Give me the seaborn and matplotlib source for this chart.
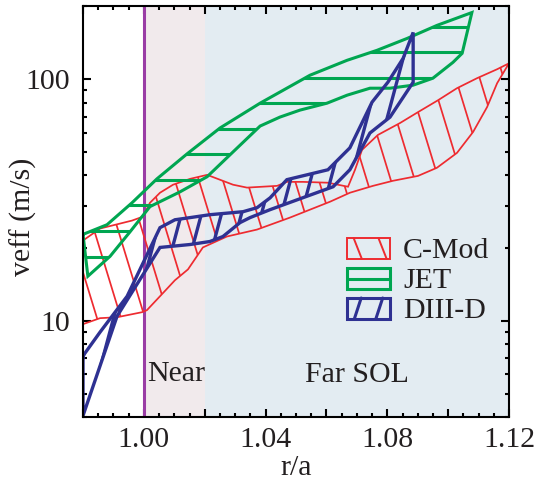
import numpy as np
import pandas as pd
import matplotlib
matplotlib.use("Agg")
import matplotlib.pyplot as plt
import seaborn as sns
from matplotlib.collections import LineCollection
from matplotlib.patches import Rectangle
from matplotlib.lines import Line2D
from matplotlib.ticker import FixedLocator, MultipleLocator, FuncFormatter, NullFormatter, LogLocator

# ---------------- data ----------------
cmod_upper_x = [0.9800, 0.9856, 0.9961, 0.9997, 1.0020, 1.0053, 1.0096, 1.0152, 1.0208, 1.0293,
                1.0339, 1.0438, 1.0470, 1.0523, 1.0605, 1.0671, 1.0694, 1.0717, 1.0769, 1.0842,
                1.0901, 1.0967, 1.1029, 1.1095, 1.1161, 1.1200]
cmod_upper_y = [21.5, 24.1, 26.0, 27.0, 30.8, 33.9, 36.6, 38.7, 40.2, 36.6,
                35.6, 36.2, 37.6, 37.6, 37.3, 35.9, 42.2, 51.0, 58.8, 65.9,
                73.1, 81.9, 91.8, 101.0, 110.0, 116.4]
cmod_lower_x = [0.9800, 0.9856, 0.9912, 0.9994, 1.0010, 1.0053, 1.0102, 1.0145, 1.0194, 1.0273,
                1.0372, 1.0480, 1.0612, 1.0677, 1.0753, 1.0819, 1.0901, 1.0963, 1.1029, 1.1082,
                1.1128, 1.1161]
cmod_lower_y = [9.69, 10.26, 10.35, 10.86, 11.07, 12.64, 14.72, 16.33, 20.13, 22.34,
                23.87, 26.75, 31.13, 33.9, 36.2, 38.0, 39.8, 43.0, 49.56, 60.5,
                76.7, 96.3]

jet_upper_x = [0.9800, 0.9879, 0.9961, 1.0043, 1.0142, 1.0250, 1.0382, 1.0546, 1.0668, 1.0766,
               1.0865, 1.0963, 1.1078]
jet_upper_y = [22.8, 25.0, 30.8, 38.7, 49.1, 62.8, 79.6, 103.9, 119.8, 131.7,
               147.5, 167.0, 188.8]
jet_lower_x = [0.9816, 0.9889, 0.9955, 1.0020, 1.0119, 1.0208, 1.0290, 1.0382, 1.0447, 1.0513,
               1.0602, 1.0668, 1.0743, 1.0809, 1.0885, 1.0950, 1.1016, 1.1046]
jet_lower_y = [15.3, 18.5, 23.4, 29.7, 34.2, 39.5, 49.6, 64.0, 69.7, 74.5,
               79.6, 85.9, 91.8, 91.8, 94.5, 101.0, 117.5, 128.0]

diiid_upper_x = [0.9800, 0.9856, 0.9945, 1.0053, 1.0102, 1.0152, 1.0217, 1.0326, 1.0372, 1.0415,
                 1.0470, 1.0605, 1.0677, 1.0750, 1.0802, 1.0852, 1.0885]
diiid_upper_y = [7.16, 8.98, 12.64, 24.3, 26.2, 26.75, 27.5, 28.3, 29.4, 32.3,
                 38.4, 42.2, 52.0, 80.4, 97.2, 122.0, 156.2]
diiid_lower_x = [0.9800, 0.9912, 1.0053, 1.0152, 1.0217, 1.0260, 1.0316, 1.0349, 1.0415, 1.0523,
                 1.0622, 1.0677, 1.0743, 1.0809, 1.0885]
diiid_lower_y = [4.05, 10.46, 20.13, 20.7, 21.3, 22.34, 25.5, 26.75, 28.86, 32.34,
                 35.9, 42.2, 59.9, 69.7, 97.2]

labels = ["C-Mod", "JET", "DIII-D"]
x_tick_values = [0.98, 1.00, 1.02, 1.04, 1.06, 1.08, 1.10, 1.12]
x_tick_labels = ["", "1.00", "", "1.04", "", "1.08", "", "1.12"]
separatrix = 1.00
near_sol = (1.00, 1.02)
far_sol = (1.02, 1.12)

# ---------------- style ----------------
sns.set_style("ticks")
plt.rcParams["font.family"] = ["Liberation Serif", "DejaVu Serif"]
FS = 21.5
TXT = "#231F20"
RED, GREEN, BLUE = "#EE2B30", "#00A651", "#2E3192"
PURPLE = "#9A3DA5"
PINK_BG, BLUE_BG = "#F1EAEC", "#E3ECF2"

FIG_W, FIG_H = 545, 486
L, R, T, B = 83, 509, 6.5, 417
AXW, AXH = R - L, B - T

fig = plt.figure(figsize=(FIG_W / 100, FIG_H / 100), dpi=100)
ax = fig.add_axes([L / FIG_W, 1 - B / FIG_H, AXW / FIG_W, AXH / FIG_H])
ax.set_yscale("log")


def ax_frac(px, py):
    return ((px - L) / AXW, (B - py) / AXH)


def hatch_segments(kind, p0, s, c=0.0):
    px0, py0 = p0
    segs = []
    if kind == "h":
        for k in range(-40, 41):
            py = py0 + k * s
            segs.append([ax_frac(L - 20, py), ax_frac(R + 20, py)])
    else:
        sign = 1 if kind == "back" else -1
        for k in range(-60, 61):
            ya, yb = T - 30, B + 30
            xa = px0 + k * s + sign * (ya - py0) * c
            xb = px0 + k * s + sign * (yb - py0) * c
            segs.append([ax_frac(xa, ya), ax_frac(xb, yb)])
    return segs


def draw_band(ux, uy, lx, ly, color, lw, kind, p0, s, c, z):
    xs = list(ux) + list(lx)[::-1] + [ux[0]]
    ys = list(uy) + list(ly)[::-1] + [uy[0]]
    poly = ax.fill(xs, ys, facecolor="none", edgecolor="none", zorder=z)[0]
    sns.lineplot(x=xs, y=ys, sort=False, estimator=None, color=color, lw=lw,
                 ax=ax, zorder=z + 0.2, solid_joinstyle="miter")
    lc = LineCollection(hatch_segments(kind, p0, s, c), colors=color, linewidths=lw,
                        transform=ax.transAxes, zorder=z + 0.1)
    ax.add_collection(lc, autolim=False)
    lc.set_clip_path(poly)


# regions and separatrix
ax.axvspan(*near_sol, color=PINK_BG, lw=0, zorder=0)
ax.axvspan(*far_sol, color=BLUE_BG, lw=0, zorder=0)
ax.axvline(separatrix, color=PURPLE, lw=2.2, zorder=1)

draw_band(cmod_upper_x, cmod_upper_y, cmod_lower_x, cmod_lower_y, RED, 1.25,
          "back", (418, 112), 24, 1 / np.tan(np.radians(73)), 2)
draw_band(jet_upper_x, jet_upper_y, jet_lower_x, jet_lower_y, GREEN, 2.2,
          "h", (0, 27), 25.5, 0, 3)
draw_band(diiid_upper_x, diiid_upper_y, diiid_lower_x, diiid_lower_y, BLUE, 2.4,
          "fwd", (215, 238), 20, 1 / np.tan(np.radians(75)), 4)

# axes
ax.set_xlim(0.98, 1.12)
ax.set_ylim(4, 200)
ax.xaxis.set_major_locator(FixedLocator(x_tick_values))
ax.xaxis.set_major_formatter(FuncFormatter(
    lambda v, p: dict(zip([round(t, 2) for t in x_tick_values], x_tick_labels)).get(round(v, 2), "")))
ax.xaxis.set_minor_locator(MultipleLocator(0.005))
ax.yaxis.set_major_locator(LogLocator(base=10))
ax.yaxis.set_minor_locator(LogLocator(base=10, subs=np.arange(2, 10)))
ax.yaxis.set_major_formatter(FuncFormatter(lambda v, p: f"{v:g}"))
ax.yaxis.set_minor_formatter(NullFormatter())

ax.tick_params(which="both", direction="in", top=True, right=True, width=1.5,
               color="black", labelcolor=TXT, labelsize=FS)
ax.tick_params(which="major", length=6)
ax.tick_params(which="minor", length=3)
ax.tick_params(axis="x", pad=7)
ax.tick_params(axis="y", pad=9)
for sp in ax.spines.values():
    sp.set_linewidth(1.5)
    sp.set_color("black")
    sp.set_zorder(10)

ax.set_xlabel("r/a", fontsize=FS, color=TXT)
ax.set_ylabel("veff (m/s)", fontsize=FS, color=TXT)
ax.xaxis.set_label_coords(0.5, ax_frac(0, 455)[1])
ax.yaxis.set_label_coords(ax_frac(37, 0)[0], ax_frac(0, 217)[1])

# region annotations
trans = ax.get_xaxis_transform()
ax.text(1.0010, ax_frac(0, 381)[1], "Near", transform=trans, fontsize=FS, color=TXT,
        va="baseline", ha="left", zorder=6)
ax.text(1.0530, ax_frac(0, 382)[1], "Far SOL", transform=trans, fontsize=FS, color=TXT,
        va="baseline", ha="left", zorder=6)

# legend (drawn as boxes with hatch marks)
entries = [(labels[0], RED, 1.4, "back", 238),
           (labels[1], GREEN, 2.2, "h", 268),
           (labels[2], BLUE, 2.2, "fwd", 298)]
bx0, bx1, bh = 347, 390, 21
for lab, col, lw, kind, top in entries:
    x0, y0 = ax_frac(bx0, top + bh)
    x1, y1 = ax_frac(bx1, top)
    w, h = x1 - x0, y1 - y0
    ax.add_patch(Rectangle((x0, y0), w, h, transform=ax.transAxes, fill=False,
                           ec=col, lw=lw, zorder=7, clip_on=False))
    if kind == "back":
        pairs = [((0.154, 1), (0.346, 0)), ((0.731, 1), (0.923, 0))]
    elif kind == "fwd":
        pairs = [((0.17, 0), (0.33, 1)), ((0.67, 0), (0.83, 1))]
    else:
        pairs = [((0, 0.5), (1, 0.5))]
    for (fa, ga), (fb, gb) in pairs:
        ax.add_line(Line2D([x0 + fa * w, x0 + fb * w], [y0 + ga * h, y0 + gb * h],
                           transform=ax.transAxes, color=col, lw=lw, zorder=7,
                           clip_on=False))
    ax.text(ax_frac(403, 0)[0], ax_frac(0, top + bh - 1)[1], lab, transform=ax.transAxes,
            fontsize=FS, color=TXT, va="baseline", ha="left", zorder=7)

fig.savefig("out.png", dpi=100)
